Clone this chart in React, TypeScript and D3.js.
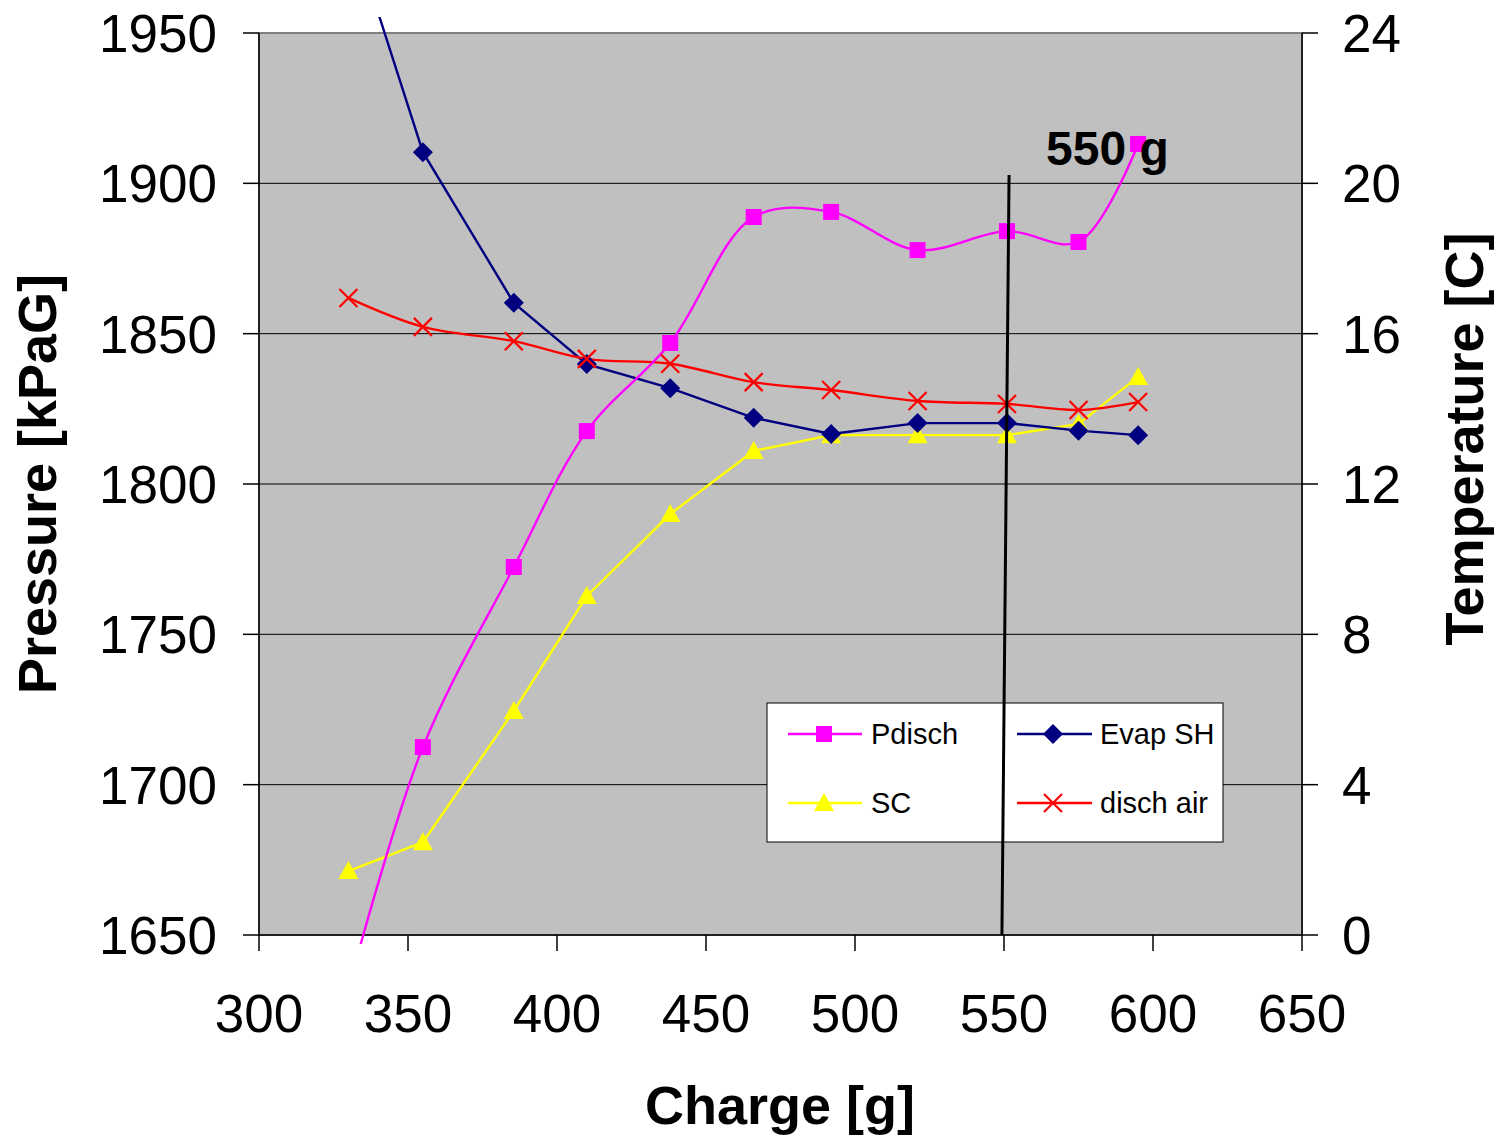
import React from "react";
import * as d3 from "d3";

const charge = [330, 355, 385.5, 410, 438, 466, 492, 521, 551, 575, 595];
const pdisch = [1632, 1712.5, 1772.4, 1817.6, 1846.9, 1888.8, 1890.5, 1877.8, 1884.1, 1880.5, 1913.1];
const evapSH = [27, 20.83, 16.82, 15.19, 14.55, 13.76, 13.33, 13.62, 13.62, 13.42, 13.3];
const sc = [1.7, 2.47, 5.96, 9.02, 11.2, 12.88, 13.3, 13.3, 13.3, 13.6, 14.85];
const dischAir = [16.95, 16.18, 15.8, 15.33, 15.2, 14.71, 14.5, 14.21, 14.13, 13.97, 14.18];
const xTicks = [300, 350, 400, 450, 500, 550, 600, 650];
const pTicks = [1650, 1700, 1750, 1800, 1850, 1900, 1950];
const tTicks = [0, 4, 8, 12, 16, 20, 24];
const markLine = [
  { x: 551.7, p: 1902.8 },
  { x: 549.3, p: 1650 },
];

const FONT = "'Liberation Sans', Arial, Helvetica, sans-serif";
const W = 1495, H = 1136;
const L = 259, R = 1302, T = 33, B = 935;

export default function App() {
  const x = d3.scaleLinear().domain([300, 650]).range([L, R]);
  const yP = d3.scaleLinear().domain([1650, 1950]).range([B, T]);
  const yT = d3.scaleLinear().domain([0, 24]).range([B, T]);

  const smooth = d3.curveCatmullRom.alpha(0.5);
  const lineP = d3.line<number>().x((_, i) => x(charge[i])).y((d) => yP(d)).curve(smooth);
  const lineTs = d3.line<number>().x((_, i) => x(charge[i])).y((d) => yT(d)).curve(smooth);
  const lineT = d3.line<number>().x((_, i) => x(charge[i])).y((d) => yT(d));

  const sq = (cx: number, cy: number, key: any, s = 16) => (
    <rect key={key} x={cx - s / 2} y={cy - s / 2} width={s} height={s} fill="#FF00FF" />
  );
  const dia = (cx: number, cy: number, key: any, s = 10) => (
    <path key={key} d={`M${cx},${cy - s}L${cx + s},${cy}L${cx},${cy + s}L${cx - s},${cy}Z`} fill="#000080" />
  );
  const tri = (cx: number, cy: number, key: any, s = 10) => (
    <path key={key} d={`M${cx},${cy - s}L${cx + s},${cy + s * 0.8}L${cx - s},${cy + s * 0.8}Z`} fill="#FFFF00" />
  );
  const cross = (cx: number, cy: number, key: any, s = 9) => (
    <path key={key} d={`M${cx - s},${cy - s}L${cx + s},${cy + s}M${cx - s},${cy + s}L${cx + s},${cy - s}`} stroke="#FF0000" strokeWidth={2.2} fill="none" />
  );

  const inP = (v: number) => v >= 1650 && v <= 1950;
  const inT = (v: number) => v >= 0 && v <= 24;

  const lg = { x: 767, y: 703, w: 456, h: 139 };
  const SW = 2.4;

  return (
    <svg width={W} height={H} style={{ position: "absolute", left: 0, top: 0, background: "#fff" }} fontFamily={FONT}>
      <defs>
        <clipPath id="clip">
          <rect x={L} y={17} width={R - L} height={B - 17 + 9} />
        </clipPath>
      </defs>
      <rect x={L} y={T} width={R - L} height={B - T} fill="#C0C0C0" stroke="#808080" strokeWidth={2} />
      {pTicks.slice(1, -1).map((t) => (
        <line key={t} x1={L} x2={R} y1={yP(t)} y2={yP(t)} stroke="#000" strokeWidth={1} />
      ))}
      {/* axes */}
      <line x1={L} x2={L} y1={T} y2={B} stroke="#000" strokeWidth={1.5} />
      <line x1={R} x2={R} y1={T} y2={B} stroke="#000" strokeWidth={1.5} />
      <line x1={L} x2={R} y1={B} y2={B} stroke="#000" strokeWidth={1.5} />
      {pTicks.map((t) => (
        <g key={t}>
          <line x1={L - 16} x2={L} y1={yP(t)} y2={yP(t)} stroke="#000" strokeWidth={1.5} />
          <text x={217} y={yP(t)} dy="0.36em" textAnchor="end" fontSize={53}>{t}</text>
        </g>
      ))}
      {tTicks.map((t) => (
        <g key={t}>
          <line x1={R} x2={R + 16} y1={yT(t)} y2={yT(t)} stroke="#000" strokeWidth={1.5} />
          <text x={1342} y={yT(t)} dy="0.36em" textAnchor="start" fontSize={53}>{t}</text>
        </g>
      ))}
      {xTicks.map((t) => (
        <g key={t}>
          <line x1={x(t)} x2={x(t)} y1={B} y2={B + 16} stroke="#000" strokeWidth={1.5} />
          <text x={x(t)} y={1032} textAnchor="middle" fontSize={53}>{t}</text>
        </g>
      ))}
      <text transform={`translate(56,484) rotate(-90)`} textAnchor="middle" fontSize={54} fontWeight="bold">Pressure [kPaG]</text>
      <text transform={`translate(1483,439) rotate(-90)`} textAnchor="middle" fontSize={54} fontWeight="bold">Temperature [C]</text>
      <text x={780} y={1124} textAnchor="middle" fontSize={54} fontWeight="bold">Charge [g]</text>

      <g clipPath="url(#clip)">
        <path d={lineT(sc) || ""} fill="none" stroke="#FFFF00" strokeWidth={SW} />
        <path d={lineT(evapSH) || ""} fill="none" stroke="#000080" strokeWidth={SW} />
        <path d={lineTs(dischAir) || ""} fill="none" stroke="#FF0000" strokeWidth={SW} />
        <path d={lineP(pdisch) || ""} fill="none" stroke="#FF00FF" strokeWidth={SW} />
      </g>
      {sc.map((v, i) => (inT(v) ? tri(x(charge[i]), yT(v), "s" + i) : null))}
      {evapSH.map((v, i) => (inT(v) ? dia(x(charge[i]), yT(v), "e" + i) : null))}
      {dischAir.map((v, i) => (inT(v) ? cross(x(charge[i]), yT(v), "d" + i) : null))}
      {pdisch.map((v, i) => (inP(v) ? sq(x(charge[i]), yP(v), "p" + i) : null))}

      {/* legend */}
      <rect x={lg.x} y={lg.y} width={lg.w} height={lg.h} fill="#fff" stroke="#000" strokeWidth={1} />
      <line x1={788} x2={862} y1={734} y2={734} stroke="#FF00FF" strokeWidth={SW} />
      {sq(824, 734, "lp")}
      <text x={871} y={734} dy="0.36em" fontSize={29}>Pdisch</text>
      <line x1={1017} x2={1092} y1={734} y2={734} stroke="#000080" strokeWidth={SW} />
      {dia(1053, 734, "le")}
      <text x={1100} y={734} dy="0.36em" fontSize={29}>Evap SH</text>
      <line x1={788} x2={862} y1={803} y2={803} stroke="#FFFF00" strokeWidth={SW} />
      {tri(824, 803, "ls")}
      <text x={871} y={803} dy="0.36em" fontSize={29}>SC</text>
      <line x1={1017} x2={1092} y1={803} y2={803} stroke="#FF0000" strokeWidth={SW} />
      {cross(1053, 803, "ld")}
      <text x={1100} y={803} dy="0.36em" fontSize={29}>disch air</text>

      {/* 550 g marker line */}
      <line x1={x(markLine[0].x)} y1={yP(markLine[0].p)} x2={x(markLine[1].x)} y2={yP(markLine[1].p)} stroke="#000" strokeWidth={3} />
      <text x={1046} y={165} fontSize={48} fontWeight="bold">550 g</text>
    </svg>
  );
}
